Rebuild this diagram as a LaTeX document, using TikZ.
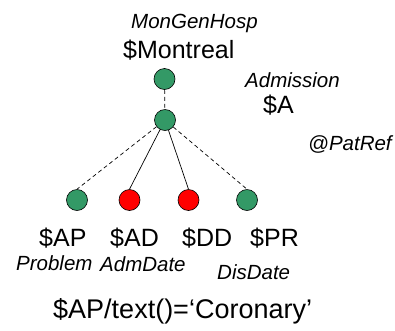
\documentclass[tikz,border=0pt]{standalone}
\usepackage{fontspec}
\setmainfont{Liberation Sans}
\definecolor{nodegreen}{RGB}{51,153,102}
\begin{document}
\begin{tikzpicture}[x=1pt,y=-1pt,
  gn/.style={circle,draw=black,fill=nodegreen,minimum size=21pt,inner sep=0pt,line width=0.6pt},
  rn/.style={gn,fill=red},
  edge/.style={line width=0.7pt},
  dedge/.style={edge,dash pattern=on 4pt off 3pt},
  lbl/.style={font=\fontsize{25}{30}\selectfont,inner sep=0pt,anchor=base west},
  tag/.style={font=\fontsize{20.5}{24}\selectfont\itshape,inner sep=0pt,anchor=base west}]
\useasboundingbox (0,0) rectangle (395,330);
% tree nodes
\node[gn] (root) at (164.5,79) {};
\node[gn] (adm) at (165,120) {};
\node[gn] (ap) at (77,200) {};
\node[rn] (ad) at (129.5,200) {};
\node[rn] (dd) at (188.5,200) {};
\node[gn] (pr) at (247,200) {};
% connectors
\draw[dedge] (root) -- (adm);
\draw[dedge] (adm) -- (ap.north);
\draw[edge] (adm) -- (ad.north);
\draw[edge] (adm) -- (dd.north);
\draw[dedge] (adm) -- (pr.north);
% labels
\node[tag] (mgh) at (131,28) {MonGenHosp};
\node[lbl] (montreal) at (123,58) {\$Montreal};
\node[tag] (admission) at (245,87) {Admission};
\node[lbl] (alab) at (263,113) {\$A};
\node[tag] (patref) at (308,150) {@PatRef};
\node[lbl] (aplab) at (39,246) {\$AP};
\node[lbl] (adlab) at (110,246) {\$AD};
\node[lbl] (ddlab) at (182,246) {\$DD};
\node[lbl] (prlab) at (250,246) {\$PR};
\node[tag] (problem) at (16,270) {Problem};
\node[tag] (admdate) at (100,271) {AdmDate};
\node[tag] (disdate) at (217,279) {DisDate};
\node[lbl,font=\fontsize{27}{31}\selectfont] (query) at (53,318) {\$AP/text()=‘Coronary’};
\end{tikzpicture}
\end{document}
